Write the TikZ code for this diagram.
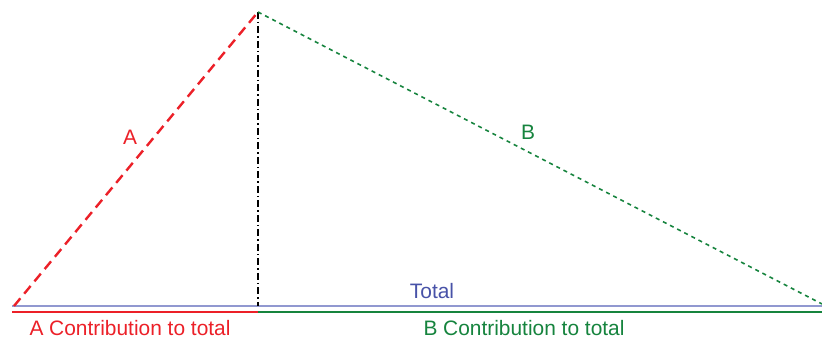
\documentclass[tikz,border=0pt]{standalone}
\usepackage{fontspec}
\setmainfont{Liberation Sans}
\definecolor{cred}{RGB}{236,32,40}
\definecolor{cgreen}{RGB}{22,132,62}
\definecolor{ctotaltext}{RGB}{72,82,168}
\definecolor{ctotalline}{RGB}{145,152,208}
\tikzset{
  lbl/.style={font=\fontsize{20.9}{25}\selectfont, inner sep=0pt},
  aline/.style={cred, line width=2.4pt, dash pattern=on 10pt off 6pt},
  bline/.style={cgreen, line width=1.6pt, dash pattern=on 4pt off 4pt},
  vline/.style={black, line width=1.2pt, dash pattern=on 7pt off 3pt on 1.5pt off 3pt},
  totline/.style={ctotalline, line width=2pt},
  baseline/.style={line width=2pt},
}
\begin{document}
\begin{tikzpicture}[x=1pt,y=-1pt]
\useasboundingbox[fill=white] (0,0) rectangle (822,344);
\coordinate (L) at (14,306);
\coordinate (T) at (258,12);
\coordinate (R) at (822,304);
\coordinate (M) at (258,306);
\coordinate (TL) at (12,306);
\coordinate (TR) at (822,306);
\coordinate (BL) at (12,312);
\coordinate (BM) at (258,312);
\coordinate (BR) at (822,312);
\draw[totline] (TL) -- (TR);
\draw[baseline, cred] (BL) -- (BM);
\draw[baseline, cgreen] (BM) -- (BR);
\draw[vline] (T) -- (M);
\draw[aline] (L) -- (T);
\draw[bline] (T) -- (R);
\node[lbl, text=cred] (la) at (130,137) {A};
\node[lbl, text=cgreen] (lb) at (528,132) {B};
\node[lbl, text=ctotaltext] (lt) at (432,291) {Total};
\node[lbl, text=cred] (lac) at (130,328) {A Contribution to total};
\node[lbl, text=cgreen] (lbc) at (524,328) {B Contribution to total};
\end{tikzpicture}
\end{document}
